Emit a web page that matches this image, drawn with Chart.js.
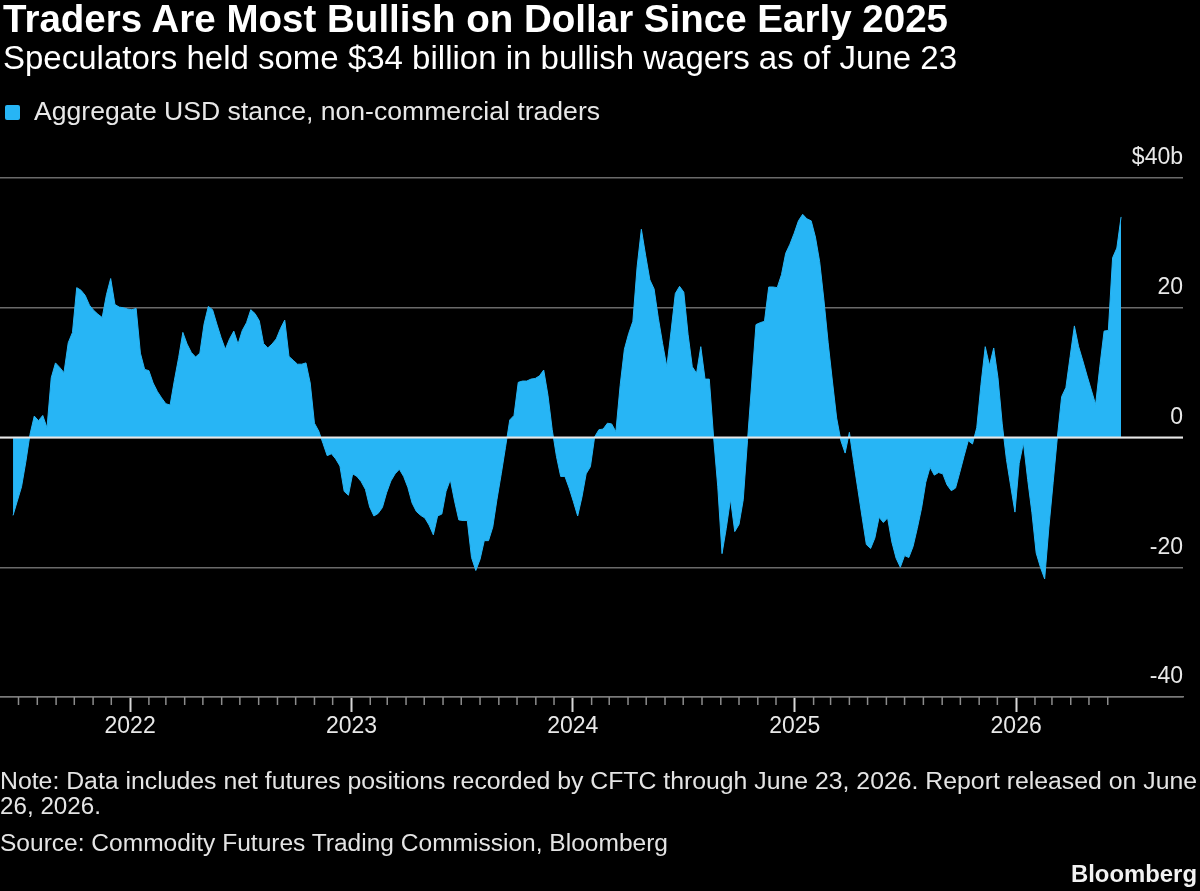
<!DOCTYPE html>
<html>
<head>
<meta charset="utf-8">
<title>Traders Are Most Bullish on Dollar Since Early 2025</title>
<script src="https://cdn.jsdelivr.net/npm/chart.js@4.4.1/dist/chart.umd.min.js"></script>
<style>
  html, body { margin:0; padding:0; background:#000; }
  #page { position:relative; width:1200px; height:891px; background:#000; overflow:hidden; }
  #chartBox { position:absolute; left:0; top:0; width:1200px; height:891px; }
  .txt { position:absolute; white-space:nowrap; line-height:1; font-family:"Liberation Sans", Arial, sans-serif; color:#fff; transform-origin:0 0; }
  #legendSwatch { position:absolute; left:5px; top:105px; width:15px; height:15px; border-radius:2px; background:#27b5f5; }
</style>
</head>
<body>
<div id="page">
  <div id="chartBox"><canvas id="chart"></canvas></div>
  <div class="txt" data-w="945" style="left:3px; top:0px; font-size:38px; font-weight:bold;">Traders Are Most Bullish on Dollar Since Early 2025</div>
  <div class="txt" data-w="954" style="left:3px; top:41px; font-size:33px;">Speculators held some $34 billion in bullish wagers as of June 23</div>
  <div id="legendSwatch"></div>
  <div class="txt" data-w="566" style="left:34px; top:98px; font-size:26.5px; color:#e8e8e8;">Aggregate USD stance, non-commercial traders</div>
  <div class="txt" data-w="1197" style="left:0px; top:770px; font-size:23.5px; color:#e4e4e4;">Note: Data includes net futures positions recorded by CFTC through June 23, 2026. Report released on June</div>
  <div class="txt" data-w="101" style="left:0px; top:795px; font-size:23.5px; color:#e4e4e4;">26, 2026.</div>
  <div class="txt" data-w="668" style="left:0px; top:832px; font-size:23.5px; color:#e4e4e4;">Source: Commodity Futures Trading Commission, Bloomberg</div>
  <div class="txt" data-w="126" style="left:1071px; top:862px; font-size:24px; font-weight:bold; color:#f2f2f2;">Bloomberg</div>
</div>
<script>
// ---- Data (weekly CFTC readings, $ billions), first reading Tue 2021-06-22 ----
const START_DATE = Date.UTC(2021, 5, 22);
const WEEK_MS = 7 * 86400000;

const weeks2021 = [-12, -9.8, -7.6, -3.8, 0.5, 3.3, 2.6, 3.4, 1.5, 9.2, 11.5, 10.8, 10.0, 14.6,
  16.2, 23.1, 22.7, 21.9, 20.4, 19.6, 19.0, 18.5, 22.0, 24.5, 20.5, 20.1, 20.0, 19.8];

const weeks2022 = [19.7, 19.9, 13.0, 10.5, 10.3, 8.4, 7.1, 6.1, 5.2, 5.0, 8.8, 12.3, 16.2, 14.4,
  13.1, 12.4, 13.0, 17.5, 20.2, 19.7, 17.5, 15.4, 13.6, 15.2, 16.4, 14.4, 16.5, 17.7, 19.7, 19.1,
  18.0, 14.5, 13.8, 14.4, 15.2, 16.8, 18.1, 12.5, 11.9, 11.3, 11.3, 11.5, 8.4, 2.2, 1.0, -0.9,
  -2.8, -2.5, -3.3, -4.4, -8.3, -8.9];

const weeks2023 = [-5.6, -6.0, -6.8, -8.0, -10.7, -12.1, -11.7, -10.8, -8.5, -6.7, -5.6, -4.9,
  -6.0, -7.7, -10.1, -11.4, -12.0, -12.4, -13.5, -15.0, -12.1, -11.8, -8.3, -6.5, -9.8, -12.7,
  -12.8, -12.8, -18.5, -20.5, -18.8, -15.9, -15.9, -13.8, -9.5, -5.6, -1.5, 2.7, 3.4, 8.5, 8.7,
  8.7, 9.0, 9.1, 9.5, 10.4, 6.5, 1.2, -2.9, -6.0, -6.0, -7.8];

const weeks2024 = [-9.9, -12.1, -9.2, -5.6, -4.5, 0.1, 1.2, 1.3, 2.2, 2.1, 0.9, 8.0, 13.6, 16.0,
  17.9, 26.3, 32.1, 28.1, 24.3, 22.9, 18.4, 14.5, 10.9, 16.4, 22.2, 23.3, 22.4, 15.9, 10.9, 9.9,
  14.0, 9.0, 9.0, 0.2, -7.6, -17.9, -14.0, -9.5, -14.5, -13.4, -9.6, -0.5, 8.4, 17.4, 17.7, 17.9,
  23.2, 23.2, 23.1, 25.1, 28.4, 29.8, 31.5];

const weeks2025 = [33.4, 34.4, 33.7, 33.4, 30.9, 27.1, 21.2, 14.6, 8.7, 3.0, -0.5, -2.4, 0.8,
  -3.7, -8.0, -12.3, -16.5, -17.1, -15.5, -12.3, -13.1, -12.4, -16.1, -18.6, -20.0, -18.2, -18.5,
  -16.8, -14.0, -10.9, -6.9, -4.6, -5.8, -5.4, -5.6, -7.3, -8.2, -7.8, -5.4, -2.9, -0.5, -1.0,
  1.5, 8.2, 14.0, 11.1, 13.8, 9.2, 2.1, -3.4, -7.5, -11.5];

const weeks2026 = [-4.0, -0.8, -6.5, -11.6, -17.8, -20.0, -21.8, -13.8, -6.9, 0.1, 6.3, 7.7,
  12.5, 17.2, 14.0, 11.8, 9.5, 7.3, 5.1, 11.0, 16.4, 16.5, 27.7, 29.2, 34.0];

const stanceValues = [].concat(weeks2021, weeks2022, weeks2023, weeks2024, weeks2025, weeks2026);

const yTickValues = [-40, -20, 0, 20, 40];
const yearLabels = ['2022', '2023', '2024', '2025', '2026'];

// axis window
const AXIS_MIN = Date.UTC(2021, 4, 31, 12);
const AXIS_MAX = Date.UTC(2026, 9, 3, 2);

// monthly tick positions Jul 2021 .. Jun 2026
const monthTicks = [];
for (let yr = 2021; yr <= 2026; yr++) {
  for (let m = 0; m < 12; m++) {
    const t = Date.UTC(yr, m, 1);
    if (t >= Date.UTC(2021, 6, 1) && t <= Date.UTC(2026, 5, 1)) monthTicks.push(t);
  }
}

const points = stanceValues.map((v, i) => ({ x: START_DATE + i * WEEK_MS, y: v }));

// ---- text fitting (keep real text, match reference widths) ----
function fitText() {
  document.querySelectorAll('.txt[data-w]').forEach(el => {
    el.style.transform = 'none';
    const w = el.getBoundingClientRect().width;
    const k = parseFloat(el.dataset.w) / w;
    if (isFinite(k) && k > 0) el.style.transform = 'scaleX(' + k.toFixed(4) + ')';
  });
}
fitText();

// ---- chart ----
const BLUE = '#27b5f5';
const FONT = '"Liberation Sans", Arial, sans-serif';
const isJan = v => new Date(v).getUTCMonth() === 0;

const overlay = {
  id: 'overlay',
  afterDatasetsDraw(chart) {
    const { ctx, chartArea, scales } = chart;
    const y0 = scales.y.getPixelForValue(0);
    ctx.save();
    ctx.strokeStyle = '#e8e8e8';
    ctx.lineWidth = 2;
    ctx.beginPath();
    ctx.moveTo(chartArea.left, y0);
    ctx.lineTo(chartArea.right, y0);
    ctx.stroke();
    ctx.restore();
  },
  afterDraw(chart) {
    const { ctx, chartArea, scales } = chart;
    const xs = scales.x;
    ctx.save();
    ctx.strokeStyle = '#8c8c8c';
    ctx.lineWidth = 1.5;
    xs.ticks.forEach(t => {
      if (isJan(t.value)) return;
      const px = xs.getPixelForValue(t.value);
      ctx.beginPath();
      ctx.moveTo(px, chartArea.bottom);
      ctx.lineTo(px, chartArea.bottom + 8);
      ctx.stroke();
    });
    ctx.restore();
  }
};

new Chart(document.getElementById('chart'), {
  type: 'line',
  data: {
    datasets: [{
      label: 'Aggregate USD stance, non-commercial traders',
      data: points,
      fill: 'origin',
      backgroundColor: BLUE,
      borderColor: BLUE,
      borderWidth: 1,
      pointRadius: 0,
      pointHoverRadius: 0,
      tension: 0
    }]
  },
  options: {
    responsive: true,
    maintainAspectRatio: false,
    animation: false,
    events: [],
    layout: { padding: { left: 0, right: 17, top: 178, bottom: 134 } },
    plugins: {
      legend: { display: false },
      tooltip: { enabled: false },
      title: { display: false }
    },
    scales: {
      x: {
        type: 'linear',
        min: AXIS_MIN,
        max: AXIS_MAX,
        offset: false,
        afterBuildTicks: s => { s.ticks = monthTicks.map(v => ({ value: v })); },
        afterFit: s => { s.height = 60; },
        grid: {
          display: true,
          drawOnChartArea: false,
          drawTicks: true,
          tickLength: 15,
          tickWidth: 2,
          tickColor: c => (c.tick && isJan(c.tick.value)) ? '#d8d8d8' : 'rgba(0,0,0,0)'
        },
        border: { display: true, color: '#7a7a7a', width: 1.5 },
        ticks: {
          autoSkip: false,
          maxRotation: 0,
          minRotation: 0,
          padding: 1,
          color: '#e8e8e8',
          font: { family: FONT, size: 23 },
          callback: v => {
            const d = new Date(v);
            const y = String(d.getUTCFullYear());
            return (d.getUTCMonth() === 0 && yearLabels.includes(y)) ? y : '';
          }
        }
      },
      y: {
        position: 'right',
        min: -40,
        max: 40,
        afterBuildTicks: s => { s.ticks = yTickValues.map(v => ({ value: v })); },
        afterFit: s => { s.width = 0; },
        grid: { color: '#6a6a6a', lineWidth: 1.5, drawTicks: false },
        border: { display: false },
        ticks: {
          mirror: true,
          padding: 0,
          labelOffset: -20,
          color: '#e8e8e8',
          font: { family: FONT, size: 23 },
          callback: v => v === 40 ? '$40b' : String(v)
        }
      }
    }
  },
  plugins: [overlay]
});
</script>
</body>
</html>
